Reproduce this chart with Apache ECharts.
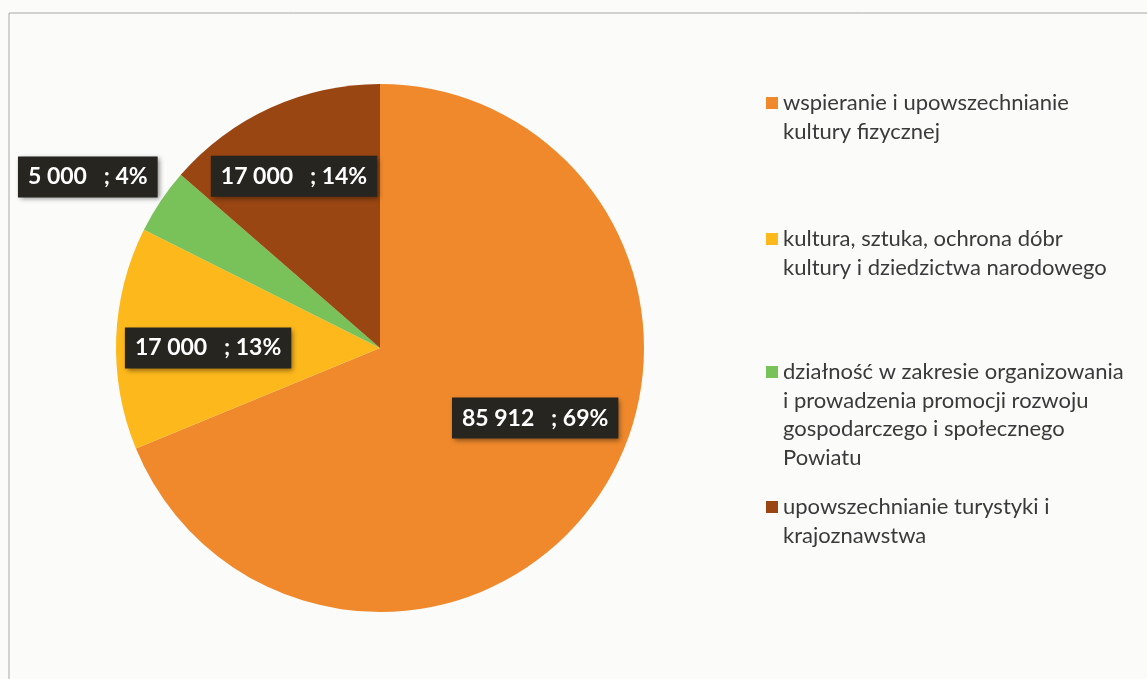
<!DOCTYPE html>
<html>
<head>
<meta charset="utf-8">
<script src="https://cdn.jsdelivr.net/npm/echarts@6/dist/echarts.min.js"></script>
<style>
  html, body { margin: 0; padding: 0; background: #f7f7f6; }
  #chart { width: 1147px; height: 679px; }
</style>
</head>
<body>
<div id="chart"></div>
<script>
const categories = [
  'wspieranie i upowszechnianie\nkultury fizycznej',
  'kultura, sztuka, ochrona dóbr\nkultury i dziedzictwa narodowego',
  'działność w zakresie organizowania\ni prowadzenia promocji rozwoju\ngospodarczego i społecznego\nPowiatu',
  'upowszechnianie turystyki i\nkrajoznawstwa'
];
const values = [85912, 17000, 5000, 17000];
const percentLabels = ['69%', '13%', '4%', '14%'];
const colors = ['#f0892c', '#fdb81c', '#79c25a', '#9a4612'];

// label nudges (px) relative to the default inside position
const labelShift = [[43, -5], [-37, 5], [-180, -96], [-30, -49]];
// legend first-line centre y
const legendLineY = [103, 239, 372, 507];
const LH = 28.5;

function fmtNum(v) {
  return String(v).replace(/\B(?=(\d{3})+(?!\d))/g, ' ');
}

const chart = echarts.init(document.getElementById('chart'));

const legends = categories.map((name, i) => {
  const n = name.split('\n').length;
  return {
    show: true,
    orient: 'vertical',
    left: 766,
    top: legendLineY[i] - (n - 1) * LH - LH / 2,
    padding: 0,
    data: [name],
    icon: 'rect',
    itemWidth: 12,
    itemHeight: 12,
    selectedMode: false,
    itemStyle: { borderWidth: 0 },
    formatter: function (nm) {
      const k = nm.split('\n').length;
      return '\n'.repeat(k - 1) + nm;
    },
    textStyle: {
      fontFamily: 'Lato',
      fontSize: 22,
      color: '#3a3a3a',
      lineHeight: LH
    }
  };
});

chart.setOption({
  backgroundColor: '#fbfbfa',
  animation: false,
  color: colors,
  legend: legends,
  graphic: [
    {
      type: 'polyline',
      shape: { points: [[9, 679], [9, 13], [1147, 13]] },
      style: { stroke: '#a8a8a8', lineWidth: 1, fill: null },
      silent: true
    }
  ],
  series: [{
    type: 'pie',
    center: [380, 348],
    radius: 264,
    startAngle: 90,
    clockwise: true,
    avoidLabelOverlap: false,
    itemStyle: { borderWidth: 0 },
    emphasis: { disabled: true },
    label: {
      show: true,
      position: 'inside',
      formatter: function (p) {
        return fmtNum(p.value) + '   ; ' + percentLabels[p.dataIndex];
      },
      color: '#ffffff',
      fontFamily: 'Lato',
      fontWeight: 'bold',
      fontSize: 23,
      backgroundColor: '#262520',
      padding: [9, 10, 9, 10],
      shadowColor: 'rgba(0,0,0,0.45)',
      shadowBlur: 5,
      shadowOffsetX: 2,
      shadowOffsetY: 2
    },
    labelLine: { show: false },
    labelLayout: function (params) {
      const s = labelShift[params.dataIndex];
      return { dx: s[0], dy: s[1] };
    },
    data: categories.map((c, i) => ({ name: c, value: values[i] }))
  }]
});
</script>
</body>
</html>
